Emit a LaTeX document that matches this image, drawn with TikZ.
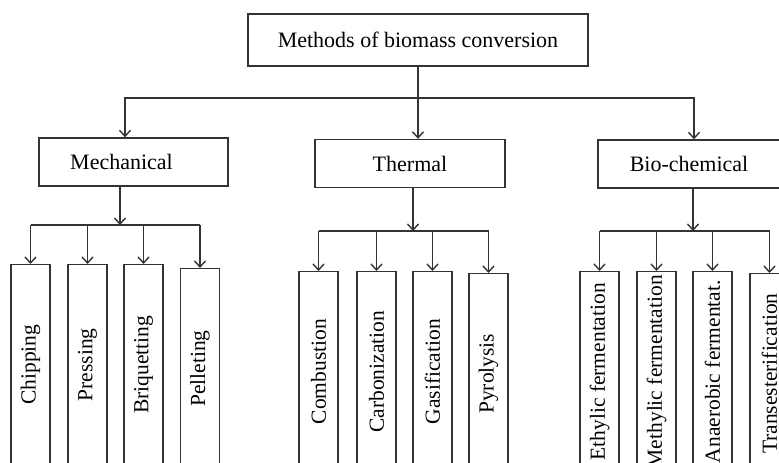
\documentclass[tikz,border=0pt]{standalone}
\usepackage{fontspec}
\setmainfont{Liberation Serif}
\usetikzlibrary{arrows.meta}

\tikzset{
    box/.style={draw=black!80, line width=1.4pt, minimum height=48pt, font=\fontsize{22}{26}\selectfont},
    leafbox/.style={draw=black!80, line width=1.4pt, rotate=90, anchor=east, minimum width=200pt, minimum height=39pt, inner sep=0pt, font=\fontsize{21.5}{25}\selectfont},
    link/.style={draw=black!80, line width=1.4pt},
    arr/.style={link, -{Straight Barb[length=6pt,width=11pt]}},
}

\begin{document}
\begin{tikzpicture}[x=1pt, y=-1pt]
        \useasboundingbox (0,0) rectangle (779,463);
        \clip (0,0) rectangle (779,463);

        % top and second level
        \node[box, minimum width=340pt, minimum height=52pt] (root) at (418,40) {Methods of biomass conversion};
        \node[box, minimum width=189pt] (mech) at (133.5,162) {\hspace*{-24pt}Mechanical};
        \node[box, minimum width=190pt] (therm) at (410,163.5) {Thermal};
        \node[box, minimum width=182pt] (bio) at (689,164) {Bio-chemical};

        % leaves
        \node[leafbox] (chip) at (30.5,264) {Chipping};
        \node[leafbox] (press) at (87.5,264) {Pressing};
        \node[leafbox] (briq) at (143.5,264) {Briquetting};
        \node[leafbox] (pell) at (200,268) {Pelleting};

        \node[leafbox] (comb) at (318.5,271) {Combustion};
        \node[leafbox] (carb) at (376.5,271) {Carbonization};
        \node[leafbox] (gasi) at (432.5,271) {Gasification};
        \node[leafbox] (pyro) at (488.5,273) {Pyrolysis};

        \node[leafbox] (ethy) at (599.5,271) {Ethylic fermentation};
        \node[leafbox] (meth) at (656.5,271) {Methylic fermentation};
        \node[leafbox] (anae) at (712.5,271) {Anaerobic fermentat.};
        \node[leafbox] (trans) at (769.5,273) {Transesterification};

        % bus lines
        \coordinate (bus0) at (0,98);
        \coordinate (bus1) at (0,225);
        \coordinate (bus2) at (0,231);

        \draw[arr] (root.south) -- (therm.north -| root.south);
        \draw[arr] (root.south |- bus0) -| ([xshift=-8.5pt]mech.north);
        \draw[arr] (root.south |- bus0) -| ([xshift=5pt]bio.north);

        \draw[arr] ([xshift=-13.5pt]mech.south) -- ([xshift=-13.5pt]mech.south |- bus1);
        \draw[link] (chip.east |- bus1) -- (pell.east |- bus1);
        \foreach \n in {chip,press,briq,pell}
            \draw[arr] (\n.east |- bus1) -- (\n.east);

        \draw[arr] ([xshift=3pt]therm.south) -- ([xshift=3pt]therm.south |- bus2);
        \draw[link] (comb.east |- bus2) -- (pyro.east |- bus2);
        \foreach \n in {comb,carb,gasi,pyro}
            \draw[arr] (\n.east |- bus2) -- (\n.east);

        \draw[arr] ([xshift=4pt]bio.south) -- ([xshift=4pt]bio.south |- bus2);
        \draw[link] (ethy.east |- bus2) -- (trans.east |- bus2);
        \foreach \n in {ethy,meth,anae,trans}
            \draw[arr] (\n.east |- bus2) -- (\n.east);
    \end{tikzpicture}
\end{document}
